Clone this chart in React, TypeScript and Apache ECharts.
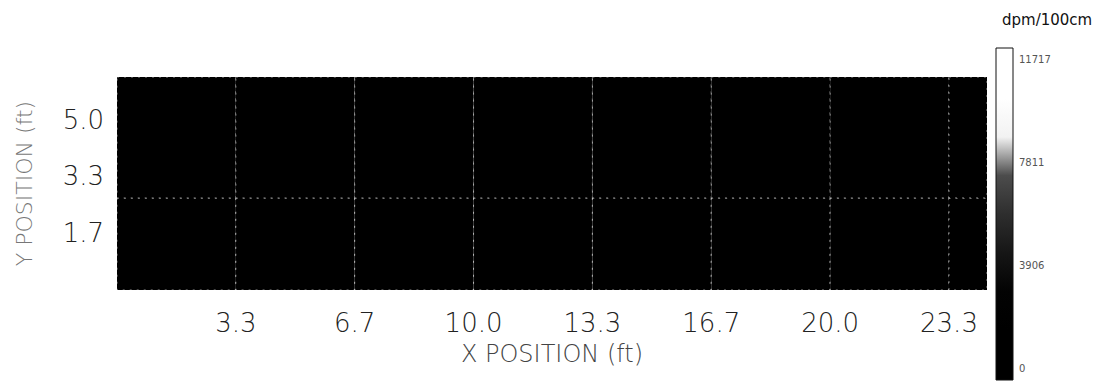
import React, { useEffect, useRef } from "react";
import * as echarts from "echarts";

// ---- data ----
const xEdges = [0, 10 / 3, 20 / 3, 10, 40 / 3, 50 / 3, 20, 70 / 3, 24.4];
const yEdges = [0, 2.7, 6.25];
const bottomRowValues = [820, 640, 910, 750, 1080, 960, 700, 530];
const topRowValues = [690, 1020, 880, 1150, 1240, 990, 860, 610];
const xTickStep = 10 / 3;
const yTickStep = 5 / 3;
const xMax = 24.4;
const yMax = 6.25;
const scaleMin = 0;
const scaleMax = 11717;
const scaleLabels = [0, 3906, 7811, 11717];
const barRange = [-456, 12173];
const colorRamp = [
  "#000000",
  "#000000",
  "#030303",
  "#161616",
  "#2e2e2e",
  "#4c4c4c",
  "#f2f2f2",
  "#ffffff",
  "#ffffff",
];
const unitTitle = "dpm/100cm";
const xName = "X POSITION (ft)";
const yName = "Y POSITION (ft)";

const FONT = "'DejaVu Sans', 'Liberation Sans', sans-serif";

function buildCells() {
  const out: number[][] = [];
  const rows = [bottomRowValues, topRowValues];
  rows.forEach((row, r) => {
    row.forEach((v, c) => {
      out.push([xEdges[c], xEdges[c + 1], yEdges[r], yEdges[r + 1], v]);
    });
  });
  return out;
}

export default function App() {
  const ref = useRef<HTMLDivElement>(null);
  useEffect(() => {
    if (!ref.current) return;
    const chart = echarts.init(ref.current, undefined, { renderer: "svg" });
    const cells = buildCells();
    const span = barRange[1] - barRange[0];
    const stops = colorRamp.map((c, i) => {
      const v = scaleMin + ((scaleMax - scaleMin) * i) / (colorRamp.length - 1);
      return { offset: (v - barRange[0]) / span, color: c };
    });
    stops.unshift({ offset: 0, color: colorRamp[0] });
    stops.push({ offset: 1, color: colorRamp[colorRamp.length - 1] });

    chart.setOption({
      animation: false,
      backgroundColor: "#ffffff",
      grid: [
        { left: 117, right: 119, top: 77, bottom: 93 },
        { left: 996, width: 17, top: 48, height: 332 },
      ],
      xAxis: [
        {
          type: "value",
          gridIndex: 0,
          min: 0,
          max: xMax,
          interval: xTickStep,
          axisLine: { show: false },
          axisTick: { show: false },
          splitLine: { show: false },
          axisLabel: {
            showMinLabel: false,
            showMaxLabel: false,
            formatter: (v: number) => v.toFixed(1),
            fontSize: 26,
            fontFamily: FONT,
            fontWeight: 200,
            color: "#222",
            margin: 20,
          },
          name: xName,
          nameLocation: "middle",
          nameGap: 52,
          nameTextStyle: { fontSize: 24, fontFamily: FONT, fontWeight: 200, color: "#444" },
        },
        {
          type: "value",
          gridIndex: 1,
          min: -1,
          max: 1,
          show: false,
        },
      ],
      yAxis: [
        {
          type: "value",
          gridIndex: 0,
          min: 0,
          max: yMax,
          interval: yTickStep,
          axisLine: { show: false },
          axisTick: { show: false },
          splitLine: { show: false },
          axisLabel: {
            showMinLabel: false,
            showMaxLabel: false,
            formatter: (v: number) => v.toFixed(1),
            fontSize: 26,
            fontFamily: FONT,
            fontWeight: 200,
            color: "#222",
            margin: 13,
          },
          name: yName,
          nameLocation: "middle",
          nameGap: 82,
          nameRotate: 90,
          nameTextStyle: { fontSize: 22, fontFamily: FONT, fontWeight: 200, color: "#777" },
        },
        {
          type: "value",
          gridIndex: 1,
          min: barRange[0],
          max: barRange[1],
          position: "right",
          axisLine: { show: false },
          splitLine: { show: false },
          axisTick: {
            show: true,
            inside: true,
            length: 3,
            customValues: scaleLabels,
            lineStyle: { color: "#111" },
          },
          axisLabel: {
            customValues: scaleLabels,
            formatter: (v: number) => String(Math.round(v)),
            fontSize: 10,
            fontFamily: FONT,
            color: "#555",
            margin: 6,
          },
        },
      ],
      visualMap: {
        type: "continuous",
        show: false,
        min: scaleMin,
        max: scaleMax,
        dimension: 4,
        seriesIndex: 0,
        inRange: { color: colorRamp },
      },
      graphic: [
        {
          type: "text",
          left: 1002,
          top: 12,
          style: {
            text: unitTitle,
            font: `15px ${FONT}`,
            fill: "#111",
          },
        },
      ],
      series: [
        {
          type: "custom",
          xAxisIndex: 0,
          yAxisIndex: 0,
          encode: { x: [0, 1], y: [2, 3] },
          data: cells,
          renderItem: (params: any, api: any) => {
            const p0 = api.coord([api.value(0), api.value(2)]);
            const p1 = api.coord([api.value(1), api.value(3)]);
            return {
              type: "rect",
              shape: {
                x: p0[0],
                y: p1[1],
                width: p1[0] - p0[0],
                height: p0[1] - p1[1],
              },
              style: {
                fill: api.visual("color"),
                stroke: "rgba(255,255,255,0.55)",
                lineWidth: 1,
                lineDash: [2, 5],
              },
            };
          },
        },
        {
          type: "custom",
          xAxisIndex: 1,
          yAxisIndex: 1,
          encode: { y: [1, 2] },
          data: [[0, barRange[0], barRange[1]]],
          renderItem: (params: any, api: any) => {
            const lo = api.coord([0, api.value(1)]);
            const hi = api.coord([0, api.value(2)]);
            const cs = params.coordSys;
            return {
              type: "rect",
              shape: { x: cs.x, y: hi[1], width: cs.width, height: lo[1] - hi[1] },
              style: {
                fill: new echarts.graphic.LinearGradient(0, 1, 0, 0, stops),
                stroke: "#111",
                lineWidth: 1,
              },
            };
          },
        },
      ],
    });
    return () => chart.dispose();
  }, []);
  return (
    <div
      ref={ref}
      style={{ position: "fixed", left: 0, top: 0, width: 1106, height: 383 }}
    />
  );
}
